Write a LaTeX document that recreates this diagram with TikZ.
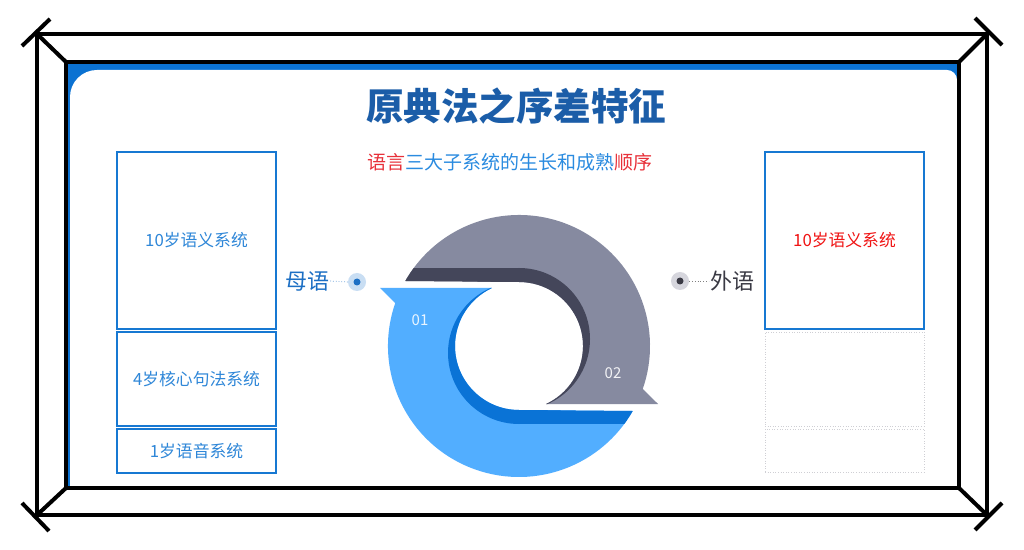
\documentclass[tikz,border=0pt]{standalone}
\usepackage{fontspec}
\setmainfont{Noto Sans CJK SC}
\definecolor{slideblue}{HTML}{0B72D2}
\definecolor{boxblue}{HTML}{1778D2}
\definecolor{textblue}{HTML}{2F87D8}
\definecolor{titleblue}{HTML}{1B5DA8}
\definecolor{subred}{HTML}{E8313A}
\definecolor{subblue}{HTML}{2A8BE0}
\definecolor{redtext}{HTML}{F01414}
\definecolor{ghost}{HTML}{CFCFD4}
\definecolor{grayL}{HTML}{868AA0}
\definecolor{grayD}{HTML}{44465A}
\definecolor{blueL}{HTML}{52AEFF}
\definecolor{blueD}{HTML}{0A73D6}
\definecolor{mublue}{HTML}{1C6FC4}
\definecolor{muring}{HTML}{C9DEF3}
\definecolor{waiink}{HTML}{3A3A44}
\definecolor{wairing}{HTML}{D6D6DD}
\begin{document}
\begin{tikzpicture}[x=1pt,y=1pt,
  framestroke/.style={line width=4pt, black, line join=miter},
  agebox/.style={draw=boxblue, line width=1.8pt, fill=white, minimum width=159pt, inner sep=0pt, text=textblue, font=\fontsize{16.8}{18}\selectfont},
  ghostbox/.style={draw=ghost, dotted, line width=0.6pt, minimum width=159pt, inner sep=0pt},
  ringdot/.style={circle, minimum size=18pt, inner sep=0pt},
  coredot/.style={circle, minimum size=7pt, inner sep=0pt},
  sidelabel/.style={inner sep=1pt, font=\fontsize{22}{24}\selectfont},
  numlabel/.style={font=\fontsize{15}{16}\selectfont}]
\useasboundingbox (0,0) rectangle (1024,549);
\fill[white] (0,0) rectangle (1024,549);
% slide
\fill[slideblue] (66,61) rectangle (959,487);
\fill[white] (70,61) -- (70,452) arc[start angle=180, end angle=90, radius=27] -- (947,479) arc[start angle=90, end angle=0, radius=10] -- (957,61) -- cycle;
% frame
\draw[framestroke] (66,61) rectangle (959,487);
\draw[framestroke] (37,34) rectangle (987,515);
\draw[framestroke] (37,515) -- (66,487);
\draw[framestroke] (987,515) -- (959,487);
\draw[framestroke] (37,34) -- (66,61);
\draw[framestroke] (987,34) -- (959,61);
\draw[framestroke] (22,503) -- (50,530);
\draw[framestroke] (975,531) -- (1002,504);
\draw[framestroke] (22,46) -- (49,18);
\draw[framestroke] (975,19) -- (1002,46);
% titles
\node[font=\fontsize{37.5}{42}\selectfont\bfseries, text=titleblue] (title) at (516,443) {原典法之序差特征};
\node[font=\fontsize{19}{21}\selectfont] (subtitle) at (510,387) {\textcolor{subred}{语言}\textcolor{subblue}{三大子系统的生长和成熟}\textcolor{subred}{顺序}};
% left boxes
\node[agebox, minimum height=177pt] (l1) at (196.5,308.5) {10岁语义系统};
\node[agebox, minimum height=94pt] (l2) at (196.5,170) {4岁核心句法系统};
\node[agebox, minimum height=44pt] (l3) at (196.5,98) {1岁语音系统};
% right boxes
\node[agebox, minimum height=177pt, text=redtext] (r1) at (844.5,308.5) {10岁语义系统};
\node[ghostbox, minimum height=94pt] (r2) at (844.5,170) {};
\node[ghostbox, minimum height=43pt] (r3) at (844.5,98.5) {};
% gray arrow
\fill[grayL] ([shift={(150.25:131)}]519,203) arc[start angle=150.25, end angle=-19.1, radius=131] -- (658,145) -- ([shift={(-65:64)}]519,203) arc[start angle=-65, end angle=90, radius=64] -- cycle;
\begin{scope}
\clip ([shift={(150.25:131)}]519,203) arc[start angle=150.25, end angle=-19.1, radius=131] -- (658,145) -- ([shift={(-65:64)}]519,203) arc[start angle=-65, end angle=90, radius=64] -- cycle;
\fill[grayD] (519,210) circle[radius=71];
\fill[grayD] (380,255) rectangle (519,281);
\end{scope}
% blue arrow
\fill[blueL] ([shift={(160.9:131)}]519,203) arc[start angle=160.9, end angle=330.25, radius=131] -- (519,139) arc[start angle=270, end angle=115, radius=64] -- (380,261) -- cycle;
\begin{scope}
\clip ([shift={(160.9:131)}]519,203) arc[start angle=160.9, end angle=330.25, radius=131] -- (519,139) arc[start angle=270, end angle=115, radius=64] -- (380,261) -- cycle;
\fill[blueD] (519,196) circle[radius=71];
\fill[blueD] (519,125) rectangle (670,150);
\end{scope}
\node[numlabel, text=white!88!blueL] (n1) at (420,229) {01};
\node[numlabel, text=white!90!grayL] (n2) at (613,176) {02};
% side labels
\node[sidelabel, text=mublue] (mu) at (307,268) {母语};
\node[ringdot, fill=muring] (mudot) at (357,267) {};
\node[coredot, fill=mublue] (mucore) at (mudot) {};
\draw[dotted, line width=0.8pt, mublue!60] (mu.east) -- (mudot.west);
\node[sidelabel, text=waiink] (wai) at (732,268) {外语};
\node[ringdot, fill=wairing] (waidot) at (680,268) {};
\node[coredot, fill=waiink] (waicore) at (waidot) {};
\draw[dotted, line width=0.8pt, gray] (waidot.east) -- (wai.west);
\end{tikzpicture}
\end{document}
